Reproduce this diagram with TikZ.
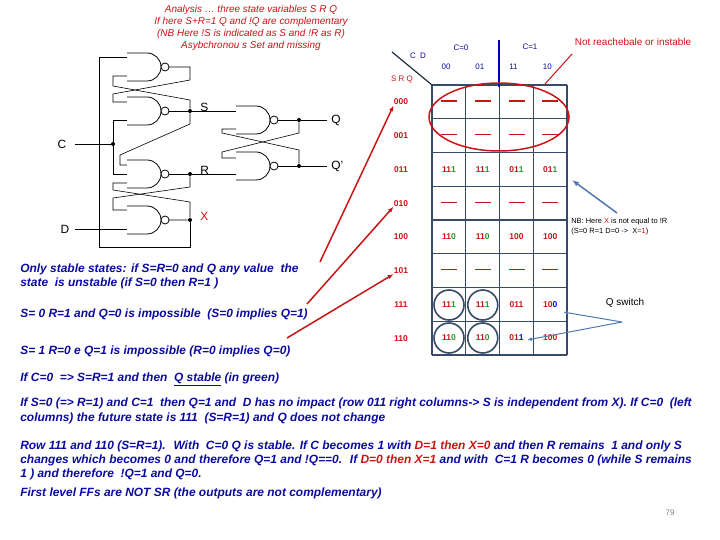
\documentclass[tikz,border=0pt]{standalone}
\usepackage{fontspec}
\setmainfont{Liberation Sans}
\usetikzlibrary{arrows.meta}
\definecolor{txtblue}{RGB}{10,10,160}
\definecolor{txtred}{RGB}{200,20,20}
\definecolor{gridblue}{RGB}{55,75,105}
\definecolor{okgreen}{RGB}{40,150,40}
\definecolor{arrblue}{RGB}{80,120,180}
\newcommand{\gate}[3]{% name, left x, top y
  \draw[thick] (#2,#3) -- ++(20,0) arc[start angle=-90,end angle=90,radius=14] -- ++(-20,0);
  \draw[thick,fill=white] (#2+38,#3+14) circle[radius=4];
  \coordinate (#1) at (#2+42,#3+14);}
\newcommand{\cc}[3]{\textcolor{#1}{#2}\textcolor{#3}}
\begin{document}
\begin{tikzpicture}[x=1bp,y=-1bp,line width=0.6pt]
  \tikzstyle{note}=[anchor=west,inner sep=0pt,text=txtblue,font=\fontsize{12}{12}\selectfont\bfseries\itshape]
  \tikzstyle{lbl}=[inner sep=0pt,font=\fontsize{12}{12}\selectfont]
  \tikzstyle{cell}=[inner sep=0pt,font=\fontsize{8.5}{8.5}\selectfont\bfseries,text=txtred]
  \tikzstyle{dot}=[circle,fill=black,inner sep=0pt,minimum size=4pt]
  \useasboundingbox (0,0) rectangle (720,540);
  % heading
  \node[inner sep=0pt,text=txtred,align=center,font=\fontsize{10}{12}\selectfont\itshape] (head) at (251,28)
    {Analysis \dots\ three state variables S R Q\\If here S+R=1  Q and !Q are complementary\\(NB Here !S is indicated as S and !R as R)\\Asybchronou s Set and missing};
  % gates
  \gate{g1}{127}{53}
  \gate{g2}{127}{97}
  \gate{g3}{127}{160}
  \gate{g4}{127}{206}
  \gate{g5}{236}{106}
  \gate{g6}{236}{152}
  \node[dot] (sdot) at (190,111) {};
  \node[dot] (rdot) at (190,174) {};
  \node[dot] (xdot) at (190,220) {};
  \node[dot] (cdot) at (113,144) {};
  \node[dot] (qdot) at (299,120) {};
  \node[dot] (qbdot) at (299,166) {};
  \node[lbl] (C) at (62,144) {C};
  \node[lbl] (D) at (65,229) {D};
  \node[lbl,anchor=south west] (S) at (200,112) {S};
  \node[lbl,anchor=south west] (R) at (200,175) {R};
  \node[lbl,anchor=south west,text=txtred] (X) at (200,221) {X};
  \node[lbl,anchor=west] (Q) at (331,120) {Q};
  \node[lbl,anchor=west] (Qb) at (331,166) {Q'};
  \coordinate (qend) at (327,120);
  \coordinate (qbend) at (327,166);
  % wiring
  \draw (C) ++(13,0) -- (cdot);
  \draw (D) ++(10,0) -- (127,229);
  \draw (127,57) -- (99,57) -- (99,247) -- (190,247) -- (xdot);
  \draw (g1) -- (190,67) -- (190,80) -- (113,94) -- (113,102) -- (127,102);
  \draw (127,76) -- (113,76) -- (113,86) -- (190,100) -- (sdot);
  \draw (g2) -- (sdot) -- (236,111);
  \draw (sdot) -- (190,124) -- (120,155) -- (120,165) -- (127,165);
  \draw (127,120) -- (113,120) -- (113,174) -- (127,174);
  \draw (g3) -- (rdot) -- (236,174);
  \draw (rdot) -- (190,187) -- (113,198) -- (113,210) -- (127,210);
  \draw (g4) -- (xdot) -- (190,202) -- (113,190) -- (113,183) -- (127,183);
  \draw (g5) -- (qdot) -- (qend);
  \draw (g6) -- (qbdot) -- (qbend);
  \draw (qdot) -- (299,133) -- (222,152) -- (222,158) -- (236,158);
  \draw (qbdot) -- (299,150) -- (222,133) -- (222,129) -- (236,129);
  % map
  \foreach \i in {0,...,4}
    \draw[gridblue,line width=1.2pt] (432+33.75*\i,85) -- (432+33.75*\i,355);
  \foreach \i in {0,...,8}
    \draw[gridblue,line width=1.2pt] (432,85+33.75*\i) -- (567,85+33.75*\i);
  \draw[gridblue!60!black,line width=1.2pt] (392,52) -- (432,85);
  \draw[blue!70!black,line width=2pt] (499,40) -- (499,87);
  \node[inner sep=0pt,font=\fontsize{8}{8}\selectfont,text=txtblue] (cd) at (418,56) {C \ D};
  \node[inner sep=0pt,font=\fontsize{8}{8}\selectfont,text=txtred] (srq) at (402,79) {S R Q};
  \node[inner sep=0pt,font=\fontsize{8}{8}\selectfont,text=txtblue] (c0) at (461,48) {C=0};
  \node[inner sep=0pt,font=\fontsize{8}{8}\selectfont,text=txtblue] (c1) at (530,47) {C=1};
  \foreach \t [count=\i from 0] in {00,01,11,10}
    \node[inner sep=0pt,font=\fontsize{8}{8}\selectfont,text=txtblue] (col\i) at (446+33.75*\i,67) {\t};
  \foreach \t [count=\i from 0] in {000,001,011,010,100,101,111,110}
    \node[cell] (row\i) at (401,102+33.75*\i) {\t};
  \foreach \r in {0,1,3,5}
    \foreach \c in {0,...,3}
      \draw[txtred,line width=1.4pt] (441+33.75*\c,101+33.75*\r) -- ++(16,0);
  \foreach \c/\t in {0/{\cc{txtred}{11}{okgreen}{1}},1/{\cc{txtred}{11}{okgreen}{1}},2/{\cc{txtred}{01}{okgreen}{1}},3/{\cc{txtred}{01}{okgreen}{1}}}
    \node[cell] (a\c) at (449+33.75*\c,170) {\t};
  \foreach \c/\t in {0/{\cc{txtred}{11}{okgreen}{0}},1/{\cc{txtred}{11}{okgreen}{0}},2/100,3/100}
    \node[cell] (b\c) at (449+33.75*\c,237) {\t};
  \foreach \c/\t in {0/{\cc{txtred}{11}{okgreen}{1}},1/{\cc{txtred}{11}{okgreen}{1}},2/011,3/{\cc{txtred}{10}{blue}{0}}}
    \node[cell] (d\c) at (449+33.75*\c,305) {\t};
  \foreach \c/\t in {0/{\cc{txtred}{11}{okgreen}{0}},1/{\cc{txtred}{11}{okgreen}{0}},2/{\cc{txtred}{01}{blue}{1}},3/100}
    \node[cell] (e\c) at (449+33.75*\c,338) {\t};
  \foreach \n in {d0,d1,e0,e1}
    \draw[gridblue,line width=1.6pt] (\n) circle[radius=15];
  \draw[txtred,line width=1.5pt] (499,117) ellipse[x radius=70,y radius=34];
  \node[inner sep=0pt,text=txtred,font=\fontsize{10}{10}\selectfont] (nr) at (633,42) {Not reachebale or instable};
  \draw[txtred,line width=1pt] (572,54) -- (545,84);
  \node[inner sep=0pt,anchor=west,align=left,font=\fontsize{7.5}{10}\selectfont] (nb) at (571,227)
    {NB: Here \textcolor{txtred}{X} is not equal to !R\\(S=0 R=1 D=0 -> \ X\textcolor{txtred}{=1})};
  \draw[arrblue,line width=1.5pt,-{Latex[length=7pt]}] (617,213) -- (572,180);
  \node[inner sep=0pt,font=\fontsize{10}{10}\selectfont] (qs) at (625,303) {Q switch};
  \coordinate (qsfork) at (622,322);
  \draw[arrblue,line width=1pt,-{Latex[length=5pt]}] (qsfork) -- (563,312);
  \draw[arrblue,line width=1pt,-{Latex[length=5pt]}] (qsfork) -- (527,340);
  % notes
  \node[note] (n1) at (20,269) {Only stable states: if S=R=0 and Q any value \ the};
  \node[note] (n1b) at (20,283) {state \ is unstable (if S=0 then R=1 )};
  \node[note] (n2) at (20,314) {S= 0 R=1 and Q=0 is impossible \ (S=0 implies Q=1)};
  \node[note] (n3) at (20,351) {S= 1 R=0 e Q=1 is impossible (R=0 implies Q=0)};
  \node[note] (n4) at (20,379) {If C=0 \ => S=R=1 and then \ \underline{Q stable} (in green)};
  \node[note] (n5) at (20,403) {If S=0 (=> R=1) and C=1 \ then Q=1 and \ D has no impact (row 011 right columns-> S is independent from X). If C=0 \ (left};
  \node[note] (n5b) at (20,418) {columns) the future state is 111 \ (S=R=1) and Q does not change};
  \node[note] (n6) at (20,446) {Row 111 and 110 (S=R=1). \ With \ C=0 Q is stable. If C becomes 1 with \textcolor{txtred}{D=1 then X=0} and then R remains \ 1 and only S};
  \node[note] (n6b) at (20,460) {changes which becomes 0 and therefore Q=1 and !Q==0. \ If \textcolor{txtred}{D=0 then X=1} and with \ C=1 R becomes 0 (while S remains};
  \node[note] (n6c) at (20,474) {1 ) and therefore \ !Q=1 and Q=0.};
  \node[note] (n7) at (20,493) {First level FFs are NOT SR (the outputs are not complementary)};
  \node[inner sep=0pt,text=gray,font=\fontsize{8}{8}\selectfont] (page) at (670,513) {79};
  % red arrows
  \draw[txtred,line width=1.5pt,-{Latex[length=6pt]}] (320,262) -- (row0.south west);
  \draw[txtred,line width=1.5pt,-{Latex[length=6pt]}] (307,304) -- (row3.south west);
  \draw[txtred,line width=1.5pt,-{Latex[length=6pt]}] (287,338) -- (row5.south west);
\end{tikzpicture}
\end{document}
